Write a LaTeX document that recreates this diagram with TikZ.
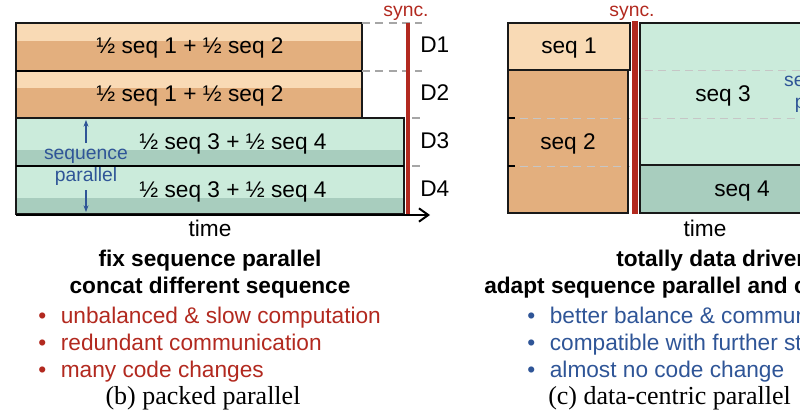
\documentclass[tikz,border=0pt]{standalone}
\usepackage{fontspec}
\setmainfont{Liberation Sans}
\newfontfamily\capfont{Liberation Serif}
\usetikzlibrary{arrows.meta,positioning}
\definecolor{orlight}{HTML}{F9DAB5}
\definecolor{ordark}{HTML}{E3AF7E}
\definecolor{grlight}{HTML}{CBEBDB}
\definecolor{grdark}{HTML}{A8CDBE}
\definecolor{syncred}{HTML}{B2291F}
\definecolor{seqblue}{HTML}{2F5597}
\tikzset{
  lbl/.style={font=\fontsize{17}{19}\selectfont,inner sep=0pt,text height=12pt,text depth=3.5pt},
  small/.style={font=\fontsize{14.5}{16}\selectfont,inner sep=0pt,text height=10.5pt,text depth=3pt},
  bold/.style={lbl,font=\fontsize{17}{19}\selectfont\bfseries},
  redtxt/.style={lbl,text=syncred,anchor=west},
  bluetxt/.style={lbl,text=seqblue,anchor=west},
  gdash/.style={gray!70,dash pattern=on 6pt off 4pt,thick},
  frame/.style={draw=black!90,line width=2pt}
}
\begin{document}
\begin{tikzpicture}[x=0.75pt,y=-0.75pt]
\useasboundingbox (0,0) rectangle (800,420);
\clip (0,0) rectangle (800,420);
%left: packed parallel
\fill[ordark](16,23)rectangle(362,118);
\fill[orlight](16,23)rectangle(362,41);
\fill[orlight](16,71)rectangle(362,88);
\fill[grlight](16,118)rectangle(404,214);
\fill[grdark](16,150)rectangle(404,166);
\fill[grdark](16,198)rectangle(404,214);
\draw[frame](16,23)rectangle(362,118); %orange rows
\draw[thick](16,71)--(362,71);
\draw[frame](16,118)rectangle(404,214); %green rows
\draw[thick](16,166)--(404,166);
\draw[gdash](362,23)--(422,23);
\draw[gdash](362,71)--(422,71);
\draw[gdash](412,118)--(422,118);
\draw[gdash](412,166)--(422,166);
\draw[syncred,line width=3pt](408,23)--(408,215); %sync
\coordinate (t0) at (16,215);
\coordinate (t1) at (430,215);
\draw[line width=1.5pt,-{Straight Barb[length=7pt,width=10pt]}](t0)--(t1);
\node[small,text=syncred] (s1) at (406,12){sync.};
\node[lbl] (r1) at (190,48){½ seq 1 + ½ seq 2};
\node[lbl] (r2) at (190,96){½ seq 1 + ½ seq 2};
\node[lbl] (r3) at (233,144){½ seq 3 + ½ seq 4};
\node[lbl] (r4) at (233,192){½ seq 3 + ½ seq 4};
\foreach \i/\y in {1/47,2/95,3/143,4/191}
  \node[lbl,anchor=west] (d\i) at (420,\y){D\i};
\node[small,text=seqblue] (sp1) at (86,155){sequence};
\node[small,text=seqblue] (sp2) at (86,177){parallel};
\coordinate (up) at (86,120);
\coordinate (dn) at (86,212);
\draw[seqblue,thick,-{Stealth[length=5pt]}](sp1.north)++(0,-3)--(up);
\draw[seqblue,thick,-{Stealth[length=5pt]}](sp2.south)++(0,4)--(dn);
\node[lbl] (tl) at (210,231){time};
\node[bold] (h1) at (210,261){fix sequence parallel};
\node[bold] (h2) at (210,288){concat different sequence};
\node[redtxt] (b1) at (38,318){•\hspace{11pt}unbalanced \& slow computation};
\node[redtxt] (b2) at (38,345){•\hspace{11pt}redundant communication};
\node[redtxt] (b3) at (38,372){•\hspace{11pt}many code changes};
\node[font=\capfont\fontsize{19.5}{22}\selectfont,inner sep=0pt] (c1) at (203,398){(b) packed parallel};
%right: data-centric parallel
\fill[orlight](508,23)rectangle(630,70);
\fill[ordark](508,70)rectangle(628,213);
\fill[grlight](640,23)rectangle(810,165);
\fill[grdark](640,165)rectangle(810,213);
\draw[gdash,semithick,gray!45](520,70)--(628,70);
\draw[gdash,semithick,gray!45](520,118)--(630,118)(640,118)--(800,118);
\draw[gdash,semithick,gray!45](520,166)--(630,166);
\draw[gdash,semithick,gray!45](645,70)--(800,70);
\draw[frame](508,23)rectangle(630,70);
\draw[frame](508,70)rectangle(628,213);
\draw[frame](640,23)rectangle(812,165);
\draw[frame](640,165)rectangle(812,213);
\draw[thick](508,118)--(515,118);
\draw[thick](508,166)--(515,166);
\draw[syncred,line width=4pt](635,21)--(635,214); %sync
\node[small,text=syncred] (s2) at (632,12){sync.};
\node[lbl] (q1) at (569,48){seq 1};
\node[lbl] (q2) at (568,144){seq 2};
\node[lbl] (q3) at (723,96){seq 3};
\node[lbl] (q4) at (742,191){seq 4};
\node[small,text=seqblue] (sp3) at (826,82){sequence};
\node[small,text=seqblue] (sp4) at (826,104){parallel};
\node[lbl] (tr) at (705,231){time};
\node[bold,anchor=west] (h3) at (616,261){totally data driven};
\node[bold,anchor=west] (h4) at (484,288){adapt sequence parallel and concat};
\node[bluetxt] (g1) at (527,318){•\hspace{11pt}better balance \& communication};
\node[bluetxt] (g2) at (527,345){•\hspace{11pt}compatible with further strategies};
\node[bluetxt] (g3) at (527,372){•\hspace{11pt}almost no code change};
\node[font=\capfont\fontsize{19.5}{22}\selectfont,inner sep=0pt,anchor=west] (c2) at (548,398){(c) data-centric parallel};
\end{tikzpicture}
\end{document}
